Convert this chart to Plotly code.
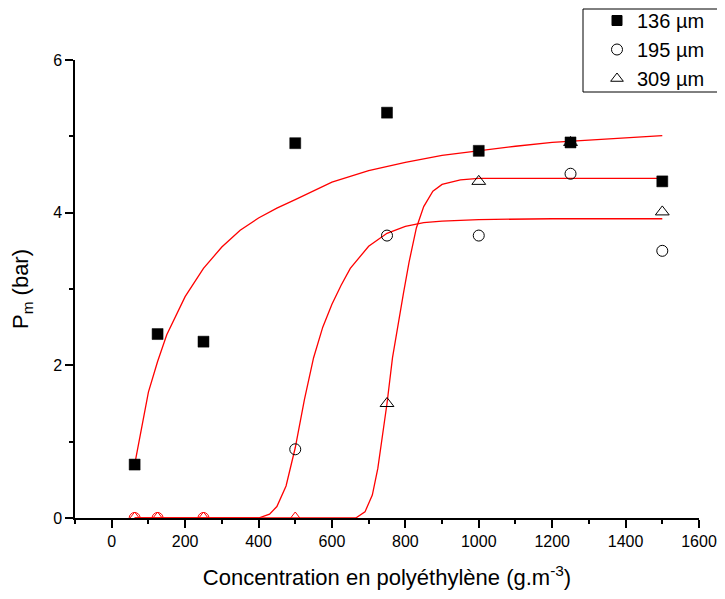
import plotly.graph_objects as go

# ---- measured data ----
conc = [62.5, 125, 250, 500, 750, 1000, 1250, 1500]
p_136 = [0.70, 2.41, 2.31, 4.91, 5.31, 4.81, 4.92, 4.41]
p_195 = [0.0, 0.0, 0.0, 0.90, 3.70, 3.70, 4.51, 3.50]
p_309 = [0.0, 0.0, 0.0, 0.0, 1.50, 4.41, 4.92, 4.01]
series_names = ["136 µm", "195 µm", "309 µm"]

# fitted curves
fit136_x = [62.5, 80, 100, 125, 150, 200, 250, 300, 350, 400, 450, 500, 600, 700, 800, 900, 1000, 1100, 1200, 1300, 1400, 1500]
fit136_y = [0.70, 1.15, 1.65, 2.05, 2.40, 2.90, 3.27, 3.55, 3.77, 3.93, 4.06, 4.17, 4.40, 4.55, 4.66, 4.75, 4.81, 4.87, 4.92, 4.95, 4.98, 5.01]
fit195_x = [62.5, 400, 430, 450, 475, 500, 525, 550, 575, 600, 625, 650, 700, 750, 800, 850, 900, 1000, 1200, 1500]
fit195_y = [0.0, 0.0, 0.05, 0.15, 0.42, 0.92, 1.55, 2.10, 2.50, 2.80, 3.05, 3.27, 3.56, 3.73, 3.82, 3.87, 3.89, 3.91, 3.92, 3.92]
fit309_x = [62.5, 665, 690, 710, 725, 740, 750, 765, 780, 795, 810, 830, 850, 875, 900, 950, 1000, 1500]
fit309_y = [0.0, 0.0, 0.08, 0.30, 0.65, 1.15, 1.50, 2.10, 2.55, 2.95, 3.35, 3.80, 4.08, 4.28, 4.37, 4.43, 4.45, 4.45]

x_ticks = [0, 200, 400, 600, 800, 1000, 1200, 1400, 1600]
y_ticks = [0, 2, 4, 6]

FONT = "Liberation Sans, Arial, sans-serif"

# the page body has an 8px margin, so the figure is drawn 8px smaller
W, H = 717, 591
ML, MR, MT, MB = 67, 26, 52, 81
PW, PH = W - ML - MR, H - MT - MB
X0, Y0 = 75, 518  # screen position of the plot's lower-left corner


def px(x):
    return (x - X0) / PW


def py(y):
    return (Y0 - y) / PH


fig = go.Figure()

for fx, fy in [(fit136_x, fit136_y), (fit195_x, fit195_y), (fit309_x, fit309_y)]:
    fig.add_trace(go.Scatter(x=fx, y=fy, mode="lines", line=dict(color="red", width=1.3),
                             showlegend=False, hoverinfo="skip"))

def edge_colors(vals):
    return ["red" if v == 0 else "black" for v in vals]

symbols = ["square", "circle-open", "triangle-up-open"]
sizes = [11, 11, 12]
for name, vals, sym, sz in zip(series_names, [p_136, p_195, p_309], symbols, sizes):
    cols = "black" if sym == "square" else edge_colors(vals)
    fig.add_trace(go.Scatter(x=conc, y=vals, mode="markers", name=name, showlegend=False,
                             marker=dict(symbol=sym, size=sz, color=cols,
                                         line=dict(color="black", width=0.5 if sym == "square" else 1))))

# legend entries (black symbols)
for i, (name, sym) in enumerate(zip(series_names, symbols)):
    fig.add_trace(go.Scatter(x=[None], y=[None], mode="markers", name=name, legendgroup=str(i),
                             marker=dict(symbol=sym, size=10 if sym == "square" else 11, color="black",
                                         line=dict(color="black", width=1))))

fig.update_layout(
    width=W, height=H, autosize=False,
    margin=dict(l=ML, r=MR, t=MT, b=MB, autoexpand=False),
    plot_bgcolor="white", paper_bgcolor="white",
    font=dict(family=FONT, size=16, color="black"),
    showlegend=True,
    legend=dict(xref="paper", yref="paper", x=px(597), xanchor="left",
                y=py(1), yanchor="top",
                bgcolor="rgba(0,0,0,0)", borderwidth=0,
                font=dict(size=20), tracegroupgap=0,
                itemsizing="trace"),
    shapes=[dict(type="rect", xref="paper", yref="paper",
                 x0=px(583), x1=px(722), y0=py(92), y1=py(9),
                 line=dict(color="black", width=1))],
)

fig.update_xaxes(range=[-100, 1600], tickvals=x_ticks, ticks="outside", ticklen=8, tickwidth=2,
                 tickcolor="black", showline=True, linecolor="black", linewidth=1.5,
                 showgrid=False, zeroline=False, mirror=False,
                 minor=dict(dtick=100, tick0=0, ticks="outside", ticklen=4, tickwidth=1.5, tickcolor="black", showgrid=False),
                 tickfont=dict(size=16),
                 title=dict(text="Concentration en polyéthylène (g.m<sup>-3</sup>)", font=dict(size=22), standoff=21))
fig.update_yaxes(range=[0, 6], tickvals=y_ticks, ticks="outside", ticklen=8, tickwidth=2,
                 tickcolor="black", showline=True, linecolor="black", linewidth=1.5,
                 showgrid=False, zeroline=False, mirror=False,
                 minor=dict(dtick=1, tick0=0, ticks="outside", ticklen=4, tickwidth=1.5, tickcolor="black", showgrid=False),
                 tickfont=dict(size=16),
                 title=dict(text="P<sub>m</sub> (bar)", font=dict(size=22), standoff=20))

fig.write_html("out.html")
